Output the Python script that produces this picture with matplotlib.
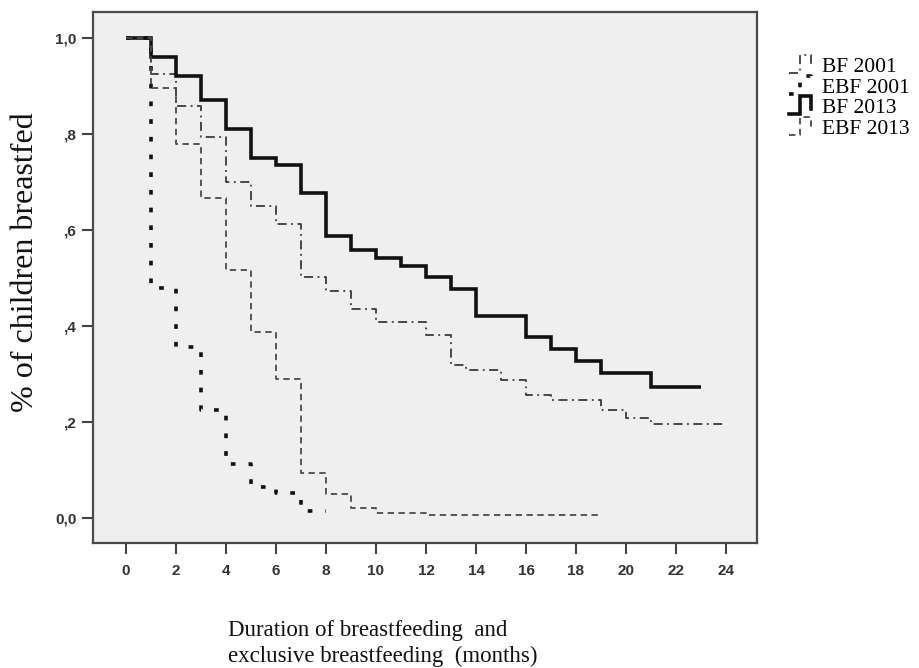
import numpy as np
import matplotlib
matplotlib.use("Agg")
import matplotlib.pyplot as plt
from matplotlib.legend_handler import HandlerBase
from matplotlib.lines import Line2D

# ---------------- data ----------------
months_bf2001 = [0, 1, 2, 3, 4, 5, 6, 7, 8, 9, 10, 12, 13, 13.6, 15, 16, 17, 19, 20, 21, 24]
surv_bf2001 = [1.0, 0.925, 0.858, 0.794, 0.699, 0.649, 0.6125, 0.503, 0.472, 0.435, 0.409,
               0.381, 0.319, 0.308, 0.288, 0.256, 0.246, 0.225, 0.208, 0.196, 0.196]

months_ebf2001 = [0, 1, 2, 3, 4, 5, 6, 7, 8]
surv_ebf2001 = [1.0, 0.48, 0.357, 0.225, 0.1125, 0.065, 0.053, 0.015, 0.015]

months_bf2013 = [0, 1, 2, 3, 4, 5, 6, 7, 8, 9, 10, 11, 12, 13, 14, 16, 17, 18, 19, 21, 23]
surv_bf2013 = [1.0, 0.96, 0.92, 0.87, 0.81, 0.75, 0.735, 0.677, 0.588, 0.558, 0.542,
               0.524, 0.502, 0.477, 0.421, 0.378, 0.352, 0.327, 0.302, 0.273, 0.273]

months_ebf2013 = [0, 1, 2, 3, 4, 5, 6, 7, 8, 9, 10, 12, 19]
surv_ebf2013 = [1.0, 0.896, 0.78, 0.667, 0.517, 0.3875, 0.29, 0.093, 0.05, 0.02, 0.0104, 0.006, 0.006]

series_labels = ["BF 2001", "EBF 2001", "BF 2013", "EBF 2013"]
x_ticks = [0, 2, 4, 6, 8, 10, 12, 14, 16, 18, 20, 22, 24]
y_ticks = [0.0, 0.2, 0.4, 0.6, 0.8, 1.0]
y_tick_labels = ["0,0", ",2", ",4", ",6", ",8", "1,0"]

# ---------------- figure ----------------
W, H = 919, 668
fig = plt.figure(figsize=(W / 100, H / 100), dpi=100)
fig.patch.set_facecolor("white")
ax = fig.add_axes([93 / W, 1 - 543 / H, (757 - 93) / W, (543 - 12) / H])
ax.set_facecolor("#efefef")

styles = [
    dict(color="#3a3a3a", lw=1.3, ls=(0, (5, 2.5, 1, 2.5))),     # BF 2001 dash-dot
    dict(color="#111111", lw=2.6, ls=(0, (1.3, 3.6))),           # EBF 2001 heavy dots
    dict(color="#111111", lw=2.6, ls="-"),                        # BF 2013 solid
    dict(color="#4a4a4a", lw=1.3, ls=(0, (3.5, 2.5))),            # EBF 2013 dashed
]
data = [(months_bf2001, surv_bf2001), (months_ebf2001, surv_ebf2001),
        (months_bf2013, surv_bf2013), (months_ebf2013, surv_ebf2013)]

handles = []
for (mx, sy), st, lab in zip(data, styles, series_labels):
    ln, = ax.step(mx, sy, where="post", color=st["color"], lw=st["lw"],
                  ls=st["ls"], dash_capstyle="butt", solid_capstyle="butt",
                  solid_joinstyle="miter", label=lab)
    handles.append(ln)

ax.set_xlim(-1.32, 25.24)
ax.set_ylim(-0.052, 1.054)
ax.set_xticks(x_ticks)
ax.set_xticklabels([str(t) for t in x_ticks])
ax.set_yticks(y_ticks)
ax.set_yticklabels(y_tick_labels)
ax.tick_params(axis="both", direction="out", length=8, width=1.5, color="#444444",
               labelsize=11, labelcolor="#333333", pad=4)
ax.tick_params(axis="x", pad=7)
for lab in ax.get_xticklabels() + ax.get_yticklabels():
    lab.set_fontfamily("Liberation Sans")
    lab.set_fontweight("bold")
for sp in ax.spines.values():
    sp.set_color("#4a4a4a")
    sp.set_linewidth(1.6)

ax.set_ylabel("% of children breastfed", fontsize=23, family="Liberation Serif",
              color="#111111")
ax.yaxis.set_label_coords((40 - 93) / 664, (543 - 262) / 531)

ax.set_xlabel("Duration of breastfeeding  and\nexclusive breastfeeding  (months)",
              fontsize=16.5, family="Liberation Serif", color="#111111",
              ha="left", va="top", multialignment="left", linespacing=1.3)
ax.xaxis.set_label_coords((228 - 93) / 664, (543 - 620) / 531)


class StepHandler(HandlerBase):
    def create_artists(self, legend, orig_handle, xdescent, ydescent, width, height,
                       fontsize, trans):
        xs = np.array([0.0, 0.45, 0.45, 0.95, 0.95]) * width - xdescent
        ys = np.array([0.05, 0.05, 1.0, 1.0, 0.35]) * height * 1.1 - ydescent - 0.05 * height
        ln = Line2D(xs, ys, color=orig_handle.get_color(), lw=orig_handle.get_linewidth(),
                    ls=orig_handle.get_linestyle(), transform=trans)
        dp = orig_handle._unscaled_dash_pattern[1]
        if dp:
            ln.set_dashes(dp)
        ln.set_solid_joinstyle("miter")
        return [ln]


fig.legend(handles, series_labels, loc="upper left",
           bbox_to_anchor=(789 / W, 1 - 56 / H), frameon=False,
           prop=dict(family="Liberation Serif", size=15.5),
           handler_map={h: StepHandler() for h in handles},
           handlelength=1.1, handleheight=0.85, handletextpad=0.45,
           labelspacing=-0.02, borderpad=0, borderaxespad=0)

fig.savefig("out.png", dpi=100, facecolor="white")
